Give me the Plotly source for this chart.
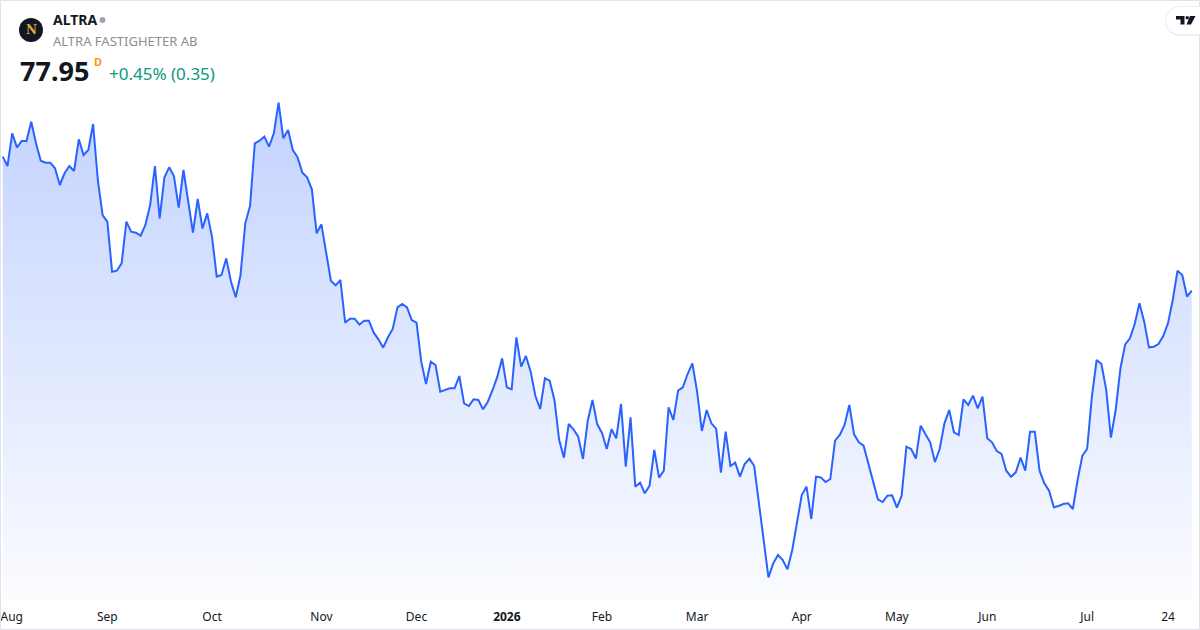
import plotly.graph_objects as go

# closing prices, one per trading day (31 Jul 2025 .. 31 Jul 2026)
prices = [
    85.99, 85.43, 87.39, 86.55, 86.93, 86.93, 88.09, 86.79, 85.75, 85.63,
    85.63, 85.29, 84.29, 84.99, 85.43, 85.13, 87.03, 86.09, 86.39, 87.95,
    84.59, 82.49, 82.09, 79.09, 79.15, 79.59, 82.09, 81.49, 81.43, 81.25,
    81.89, 83.09, 85.43, 82.29, 84.75, 85.35, 84.83, 82.93, 85.19, 83.39,
    81.43, 83.45, 81.69, 82.59, 81.19, 78.79, 78.89, 79.89, 78.49, 77.55,
    78.89, 81.99, 83.03, 86.79, 86.95, 87.19, 86.59, 87.39, 89.23, 87.09,
    87.59, 86.39, 85.95, 85.03, 84.75, 84.03, 81.39, 81.93, 80.19, 78.55,
    78.27, 78.59, 76.03, 76.27, 76.27, 75.91, 76.15, 76.15, 75.43, 75.03,
    74.53, 75.15, 75.65, 76.95, 77.15, 76.95, 76.19, 76.03, 73.69, 72.35,
    73.69, 73.49, 71.89, 71.99, 72.09, 72.09, 72.83, 71.19, 71.03, 71.43,
    71.39, 70.83, 71.29, 71.99, 72.79, 73.89, 72.15, 72.03, 75.15, 73.39,
    74.03, 73.09, 71.63, 70.85, 72.69, 72.55, 71.39, 68.99, 67.93, 69.95,
    69.63, 69.19, 67.85, 70.13, 71.39, 69.93, 69.41, 68.45, 69.63, 69.09,
    71.15, 67.39, 70.35, 66.19, 66.43, 65.79, 66.25, 68.39, 66.73, 67.15,
    70.95, 70.19, 71.95, 72.15, 72.95, 73.59, 71.89, 69.53, 70.79, 69.99,
    69.67, 67.03, 69.49, 67.43, 67.63, 66.79, 67.55, 67.87, 67.43, 65.19,
    62.99, 60.75, 61.59, 62.09, 61.79, 61.23, 62.39, 63.99, 65.69, 66.19,
    64.25, 66.79, 66.75, 66.47, 66.65, 68.95, 69.29, 69.89, 71.09, 69.33,
    68.85, 68.65, 67.59, 66.49, 65.43, 65.27, 65.65, 65.67, 64.93, 65.65,
    68.59, 68.45, 67.87, 69.85, 69.39, 68.85, 67.67, 68.45, 69.99, 70.79,
    69.45, 69.29, 71.43, 71.09, 71.65, 70.89, 71.59, 69.09, 68.85, 68.33,
    68.15, 67.15, 66.79, 67.05, 67.93, 67.15, 69.49, 69.49, 67.15, 66.39,
    65.95, 64.95, 65.03, 65.15, 65.19, 64.85, 66.59, 68.05, 68.45, 71.59,
    73.79, 73.55, 72.03, 69.13, 70.79, 73.29, 74.73, 75.09, 75.95, 77.19,
    76.09, 74.55, 74.59, 74.75, 75.23, 75.99, 77.39, 79.15, 78.89, 77.60,
    77.95,
]

# month labels and the trading-day index where each one sits
tick_text = ['Aug', 'Sep', 'Oct', 'Nov', 'Dec', '<b>2026</b>', 'Feb', 'Mar',
             'Apr', 'May', 'Jun', 'Jul', '24']
tick_idx = [1.9, 22, 44, 67, 87, 106, 126, 146, 168, 188, 207, 228, 245]

symbol = 'ALTRA'
company = 'ALTRA FASTIGHETER AB'
last_price = '77.95'
change_text = '+0.45% (0.35)'

W, H = 1200, 630
ML, MR, MT, MB = 0, 3, 0, 30
PW, PH = W - ML - MR, H - MT - MB


def px(x):
    return (x - ML) / PW


def py(y):
    return 1 - (y - MT) / PH


def path(pts):
    s = 'M ' + ' L '.join('%.5f,%.5f' % (px(a), py(b)) for a, b in pts)
    return s + ' Z'


y_lo, y_hi = 59.39, 95.39
x_idx = list(range(len(prices)))

fig = go.Figure()
fig.add_trace(go.Scatter(
    x=x_idx, y=prices, mode='lines',
    line=dict(color='#2962ff', width=2),
    fill='tozeroy',
    fillgradient=dict(
        type='vertical',
        colorscale=[[0, 'rgba(41,98,255,0.02)'], [1, 'rgba(41,98,255,0.28)']],
        start=y_lo, stop=max(prices)),
    hoverinfo='skip', showlegend=False))

font = 'Noto Sans, Open Sans, sans-serif'

annotations = [
    dict(x=px(51), y=py(20), text='<b>%s</b>' % symbol, font=dict(size=14, color='#131722', family=font)),
    dict(x=px(51), y=py(41), text=company, font=dict(size=13, color='#8a8d96', family=font)),
    dict(x=px(18), y=py(71), text='<b>%s</b>' % last_price, font=dict(size=27, color='#131722', family=font)),
    dict(x=px(92), y=py(61), text='<b>D</b>', font=dict(size=11, color='#ff9800', family=font)),
    dict(x=px(107), y=py(74), text=change_text, font=dict(size=17, color='#089981', family=font)),
    dict(x=px(31), y=py(30.5), text='<b>N</b>', font=dict(size=12, color='#d9a93f', family='DejaVu Serif'),
         xanchor='center'),
]
for a in annotations:
    a.setdefault('xanchor', 'left')
    a.update(xref='paper', yref='paper', yanchor='middle', showarrow=False)

shapes = [
    # widget border
    dict(type='rect', x0=px(0.5), x1=px(1199.5), y0=py(629.5), y1=py(0.5),
         line=dict(color='#e0e3eb', width=1)),
    # logo
    dict(type='circle', x0=px(19), x1=px(43), y0=py(42), y1=py(18),
         fillcolor='#131722', line=dict(width=0)),
    # status dot
    dict(type='circle', x0=px(99.5), x1=px(105.5), y0=py(23), y1=py(17),
         fillcolor='#a3a6af', line=dict(width=0)),
    # TradingView badge
    dict(type='circle', x0=px(1165), x1=px(1195), y0=py(36), y1=py(6),
         fillcolor='#eceef2', line=dict(width=0)),
    dict(type='rect', x0=px(1180), x1=px(1200), y0=py(36), y1=py(6),
         fillcolor='#eceef2', line=dict(width=0)),
    dict(type='circle', x0=px(1166), x1=px(1194), y0=py(34), y1=py(7),
         fillcolor='white', line=dict(width=0)),
    dict(type='rect', x0=px(1180), x1=px(1200), y0=py(34), y1=py(7),
         fillcolor='white', line=dict(width=0)),
    dict(type='path', path=path([(1176, 16), (1184.5, 16), (1184.5, 24.5), (1180.5, 24.5),
                                 (1180.5, 19.5), (1176, 19.5)]),
         fillcolor='#131722', line=dict(width=0)),
    dict(type='circle', x0=px(1185.5), x1=px(1189), y0=py(19.5), y1=py(16),
         fillcolor='#131722', line=dict(width=0)),
    dict(type='path', path=path([(1190, 16), (1195.5, 16), (1191, 24.5), (1186.5, 24.5)]),
         fillcolor='#131722', line=dict(width=0)),
]
for s in shapes:
    s.update(xref='paper', yref='paper', layer='above')

fig.update_layout(
    width=W, height=H,
    margin=dict(l=ML, r=MR, t=MT, b=MB),
    paper_bgcolor='white', plot_bgcolor='white',
    annotations=annotations, shapes=shapes,
    font=dict(family=font, color='#131722'),
    hovermode=False,
)
fig.update_xaxes(range=[-0.57, 251.1], tickvals=tick_idx, ticktext=tick_text,
                 showgrid=False, zeroline=False, showline=False, ticks='',
                 ticklabelstandoff=8, tickfont=dict(size=12, color='#131722', family=font))
fig.update_yaxes(range=[y_lo, y_hi], visible=False, showgrid=False, zeroline=False)

fig.write_html("out.html", config={'displayModeBar': False},
               post_script="document.body.style.margin='0';")
